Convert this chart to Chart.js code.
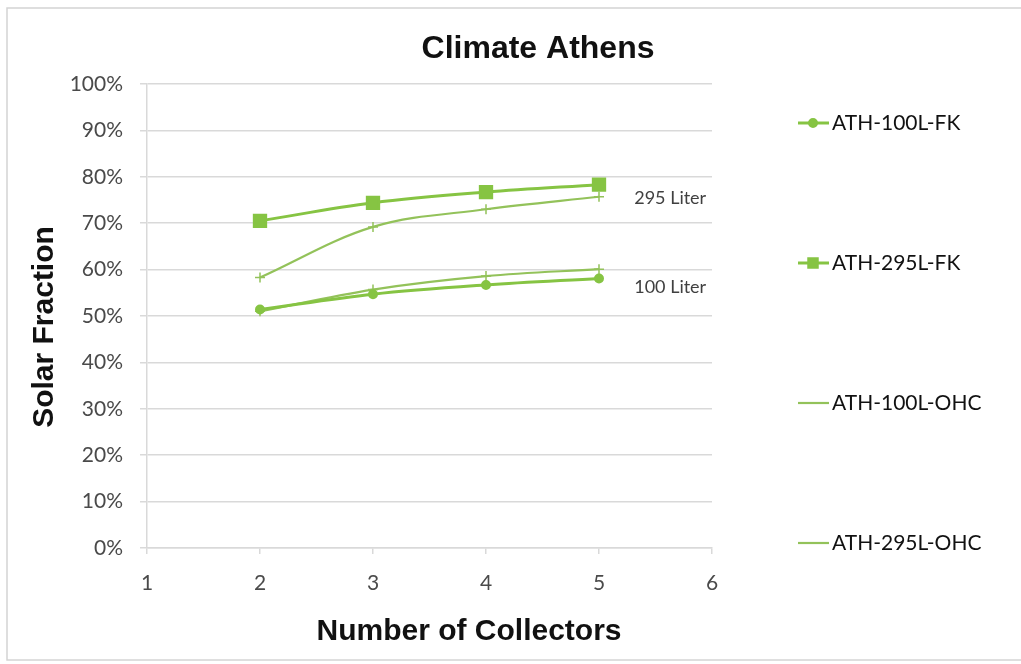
<!DOCTYPE html>
<html>
<head>
<meta charset="utf-8">
<script src="https://cdn.jsdelivr.net/npm/chart.js@4"></script>
<style>
  html, body { margin: 0; padding: 0; background: #ffffff; }
  #wrap { width: 1021px; height: 664px; position: relative; }
</style>
</head>
<body>
<div id="wrap"><canvas id="c" width="1021" height="664"></canvas></div>
<script>
// Solar fraction (%) by number of collectors, Athens climate
const collectors = [2, 3, 4, 5];
const ath100FK  = [51.4, 54.7, 56.7, 58.1];
const ath295FK  = [70.5, 74.4, 76.7, 78.3];
const ath100OHC = [51.0, 55.7, 58.6, 60.1];
const ath295OHC = [58.3, 69.2, 73.0, 75.7];
const seriesNames = ['ATH-100L-FK', 'ATH-295L-FK', 'ATH-100L-OHC', 'ATH-295L-OHC'];
const xTicks = [1, 2, 3, 4, 5, 6];
const yTicks = [0, 10, 20, 30, 40, 50, 60, 70, 80, 90, 100];
const chartTitle = 'Climate Athens';
const xTitle = 'Number of Collectors';
const yTitle = 'Solar Fraction';
const groupLabels = [
  { text: '295 Liter', x: 5.63, y: 75.4 },
  { text: '100 Liter', x: 5.63, y: 56.2 }
];

const pts = arr => arr.map((v, i) => ({ x: collectors[i], y: v }));

const GREEN = '#86c443';
const GREEN_OHC = '#93c25a';
const GRID = '#d9d9d9';

const datasets = [
  { label: seriesNames[0], data: pts(ath100FK), borderColor: GREEN, backgroundColor: GREEN,
    borderWidth: 3, pointStyle: 'circle', pointRadius: 3.5, tension: 0.35 },
  { label: seriesNames[1], data: pts(ath295FK), borderColor: GREEN, backgroundColor: GREEN,
    borderWidth: 3, pointStyle: 'rect', pointRadius: 8, tension: 0.35 },
  { label: seriesNames[2], data: pts(ath100OHC), borderColor: GREEN_OHC, backgroundColor: GREEN_OHC,
    borderWidth: 2.2, pointStyle: 'cross', pointRadius: 5, pointBorderWidth: 1.5, tension: 0.35 },
  { label: seriesNames[3], data: pts(ath295OHC), borderColor: GREEN_OHC, backgroundColor: GREEN_OHC,
    borderWidth: 2.2, pointStyle: 'cross', pointRadius: 5, pointBorderWidth: 1.5, tension: 0.35 }
];

// Frame, titles, group labels and the vertically spread legend
const decorations = {
  id: 'decorations',
  beforeDraw(chart) {
    const ctx = chart.ctx;
    ctx.save();
    ctx.fillStyle = '#ffffff';
    ctx.fillRect(0, 0, chart.width, chart.height);
    ctx.strokeStyle = '#d4d4d4';
    ctx.lineWidth = 1.5;
    ctx.strokeRect(7, 8, 1030, 652);
    ctx.restore();
  },
  afterDraw(chart) {
    const ctx = chart.ctx;
    const xs = chart.scales.x, ys = chart.scales.y;
    ctx.save();
    ctx.fillStyle = '#111111';
    ctx.textAlign = 'center';
    ctx.textBaseline = 'middle';
    ctx.font = 'bold 32px "Liberation Sans", Arial, sans-serif';
    ctx.fillText(chartTitle, 538, 49);
    ctx.font = 'bold 30px "Liberation Sans", Arial, sans-serif';
    ctx.fillText(xTitle, 469, 632);
    ctx.save();
    ctx.translate(45, 327);
    ctx.rotate(-Math.PI / 2);
    ctx.fillText(yTitle, 0, 0);
    ctx.restore();

    ctx.fillStyle = '#404040';
    ctx.font = '18px Lato, "Open Sans", sans-serif';
    groupLabels.forEach(g => {
      ctx.fillText(g.text, xs.getPixelForValue(g.x), ys.getPixelForValue(g.y));
    });

    // legend
    const legendY = [123, 263, 403, 543];
    chart.data.datasets.forEach((ds, i) => {
      const y = legendY[i];
      ctx.strokeStyle = ds.borderColor;
      ctx.lineWidth = ds.borderWidth;
      ctx.beginPath();
      ctx.moveTo(798, y);
      ctx.lineTo(829, y);
      ctx.stroke();
      if (ds.pointStyle !== 'cross') {
        Chart.helpers.drawPoint(ctx, {
          pointStyle: ds.pointStyle,
          radius: ds.pointStyle === 'rect' ? 6 : 3.5,
          borderWidth: 1
        }, 813, y);
        ctx.fillStyle = ds.backgroundColor;
        ctx.fill();
      }
      ctx.fillStyle = '#111111';
      ctx.textAlign = 'left';
      ctx.font = '21px Lato, "Open Sans", sans-serif';
      ctx.fillText(ds.label, 832, y);
    });
    ctx.restore();
  }
};

new Chart(document.getElementById('c'), {
  type: 'line',
  data: { datasets },
  plugins: [decorations],
  options: {
    responsive: false,
    animation: false,
    layout: { padding: { top: 84, right: 309, left: 0, bottom: 0 } },
    plugins: { legend: { display: false }, title: { display: false }, tooltip: { enabled: false } },
    scales: {
      x: {
        type: 'linear', min: 1, max: 6,
        afterFit(scale) { scale.height = 116; },
        afterBuildTicks(scale) { scale.ticks = xTicks.map(v => ({ value: v })); },
        grid: { drawOnChartArea: false, color: GRID, lineWidth: 1.5, tickLength: 6 },
        border: { color: GRID, width: 1.5 },
        ticks: { color: '#4a4a4a', padding: 17, font: { family: 'Lato, "Open Sans", sans-serif', size: 21 } }
      },
      y: {
        min: 0, max: 100,
        afterFit(scale) { scale.width = 147; },
        afterBuildTicks(scale) { scale.ticks = yTicks.map(v => ({ value: v })); },
        grid: { color: GRID, lineWidth: 1.5, tickLength: 7 },
        border: { color: GRID, width: 1.5 },
        ticks: { color: '#4a4a4a', padding: 17, font: { family: 'Lato, "Open Sans", sans-serif', size: 21 },
                 callback: v => v + '%' }
      }
    }
  }
});
</script>
</body>
</html>
